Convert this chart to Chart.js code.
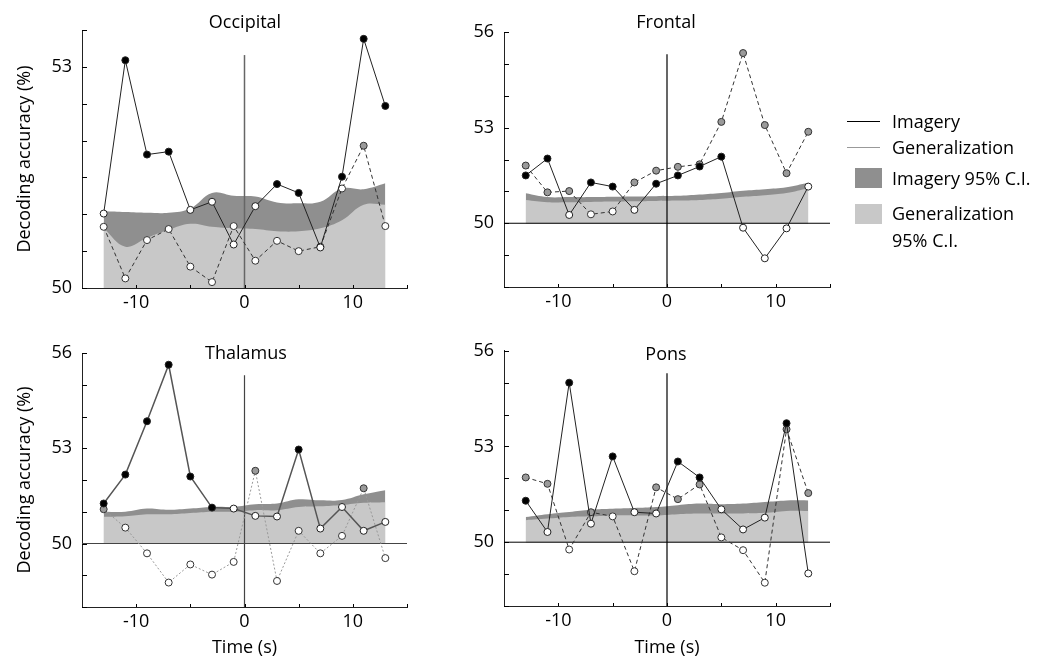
<!DOCTYPE html>
<html>
<head>
<meta charset="utf-8">
<script src="https://cdn.jsdelivr.net/npm/chart.js@4.4.1/dist/chart.umd.min.js"></script>
<style>
  body { margin: 0; background: #fff; font-family: "Open Sans", sans-serif; }
  #wrap { position: relative; width: 1043px; height: 659px; overflow: hidden; }
  canvas { position: absolute; }
  .title { position: absolute; font-size: 18px; line-height: 20px; color: #000; transform: translateX(-50%); white-space: nowrap; }
  .lg { position: absolute; font-size: 18px; line-height: 20px; color: #000; white-space: nowrap; }
  .ln { position: absolute; width: 33px; height: 0; }
  .sw { position: absolute; width: 27px; height: 20px; }
</style>
</head>
<body>
<div id="wrap">
  <canvas id="occ" width="440" height="330" style="left:0;top:0"></canvas>
  <canvas id="fro" width="410" height="330" style="left:440px;top:0"></canvas>
  <canvas id="tha" width="440" height="329" style="left:0;top:330px"></canvas>
  <canvas id="pon" width="410" height="329" style="left:440px;top:330px"></canvas>

  <div class="title" style="left:245px;top:11px">Occipital</div>
  <div class="title" style="left:666px;top:11px">Frontal</div>
  <div class="title" style="left:246px;top:342px">Thalamus</div>
  <div class="title" style="left:666px;top:343px">Pons</div>

  <div class="ln" style="left:847px;top:121px;border-top:1px solid #000"></div>
  <div class="lg" style="left:892px;top:111px">Imagery</div>
  <div class="ln" style="left:847px;top:147px;border-top:1px solid #999"></div>
  <div class="lg" style="left:892px;top:137px">Generalization</div>
  <div class="sw" style="left:855px;top:168px;background:#8f8f8f"></div>
  <div class="lg" style="left:892px;top:168px">Imagery 95% C.I.</div>
  <div class="sw" style="left:855px;top:204px;background:#c8c8c8"></div>
  <div class="lg" style="left:892px;top:203px">Generalization</div>
  <div class="lg" style="left:892px;top:230px">95% C.I.</div>
</div>
<script>
// time points (s)
const times = [-13, -11, -9, -7, -5, -3, -1, 1, 3, 5, 7, 9, 11, 13];
const xLabels = [-10, 0, 10];

// Occipital
const occImagery    = [51.01, 53.09, 51.81, 51.85, 51.06, 51.17, 50.59, 51.11, 51.41, 51.29, 50.55, 51.51, 53.38, 52.47];
const occImagerySig = [0, 1, 1, 1, 0, 0, 0, 0, 1, 1, 0, 1, 1, 1];
const occGen        = [50.83, 50.13, 50.65, 50.80, 50.29, 50.08, 50.84, 50.37, 50.64, 50.50, 50.56, 51.35, 51.93, 50.84];
const occGenSig     = [0, 0, 0, 0, 0, 0, 0, 0, 0, 0, 0, 0, 1, 0];
const occImageryCI  = [51.04, 51.03, 51.02, 51.02, 51.08, 51.29, 51.25, 51.24, 51.16, 51.15, 51.17, 51.35, 51.34, 51.42];
const occGenCI      = [50.81, 50.56, 50.68, 50.79, 50.87, 50.83, 50.81, 50.80, 50.77, 50.77, 50.81, 50.92, 51.13, 51.13];

// Frontal
const froImagery    = [51.50, 52.03, 50.26, 51.28, 51.15, 50.42, 51.24, 51.50, 51.78, 52.09, 49.86, 48.90, 49.84, 51.15];
const froImagerySig = [1, 1, 0, 1, 1, 0, 1, 1, 1, 1, 0, 0, 0, 0];
const froGen        = [51.81, 50.97, 51.01, 50.28, 50.37, 51.28, 51.65, 51.77, 51.85, 53.18, 55.34, 53.08, 51.57, 52.87];
const froGenSig     = [1, 1, 1, 0, 0, 1, 1, 1, 1, 1, 1, 1, 1, 1];
const froImageryCI  = [50.94, 50.82, 50.82, 50.82, 50.83, 50.84, 50.85, 50.86, 50.90, 50.95, 51.02, 51.07, 51.13, 51.27];
const froGenCI      = [50.73, 50.66, 50.66, 50.67, 50.68, 50.69, 50.70, 50.71, 50.73, 50.77, 50.83, 50.88, 50.95, 51.10];

// Thalamus
const thaImagery    = [51.26, 52.17, 53.85, 55.63, 52.11, 51.13, 51.10, 50.87, 50.85, 52.96, 50.47, 51.15, 50.40, 50.68];
const thaImagerySig = [1, 1, 1, 1, 1, 1, 0, 0, 0, 1, 0, 0, 0, 0];
const thaGen        = [51.08, 50.50, 49.69, 48.77, 49.34, 49.02, 49.42, 52.29, 48.82, 50.40, 49.69, 50.24, 51.74, 49.54];
const thaGenSig     = [1, 0, 0, 0, 0, 0, 0, 1, 0, 0, 0, 0, 1, 0];
const thaImageryCI  = [51.00, 51.00, 51.10, 51.06, 51.10, 51.15, 51.16, 51.24, 51.26, 51.39, 51.36, 51.37, 51.55, 51.68];
const thaGenCI      = [50.84, 50.86, 50.92, 50.92, 50.96, 51.00, 51.00, 51.05, 51.05, 51.15, 51.17, 51.21, 51.28, 51.30];

// Pons
const ponImagery    = [51.30, 50.32, 55.00, 50.58, 52.69, 50.94, 50.90, 52.53, 52.03, 51.03, 50.40, 50.77, 53.73, 49.02];
const ponImagerySig = [1, 0, 1, 0, 1, 0, 0, 1, 1, 0, 0, 0, 1, 0];
const ponGen        = [52.03, 51.83, 49.77, 50.94, 50.81, 49.09, 51.72, 51.35, 51.81, 50.15, 49.75, 48.73, 53.54, 51.54];
const ponGenSig     = [1, 1, 0, 1, 0, 0, 1, 1, 1, 0, 0, 0, 1, 1];
const ponImageryCI  = [50.79, 50.88, 50.95, 51.02, 51.05, 51.07, 51.10, 51.16, 51.21, 51.19, 51.21, 51.26, 51.31, 51.31];
const ponGenCI      = [50.69, 50.74, 50.79, 50.81, 50.84, 50.84, 50.84, 50.88, 50.90, 50.90, 50.90, 50.92, 50.98, 50.98];

const font = { family: '"Open Sans", sans-serif', size: 18 };
const darkBand = '#8f8f8f';
const lightBand = '#c8c8c8';

function xy(vals) {
    return vals.map((v, i) => ({ x: times[i], y: v }));
}

// small inward tick marks on both axes
const innerTicks = {
    id: 'innerTicks',
    afterDraw(chart, args, opts) {
        const { ctx, chartArea, scales: { x, y } } = chart;
        ctx.save();
        ctx.strokeStyle = '#000';
        ctx.lineWidth = 1;
        ctx.beginPath();
        for (let v = y.min; v <= y.max + 1e-9; v += opts.yStep) {
            const py = Math.round(y.getPixelForValue(v)) + 0.5;
            ctx.moveTo(chartArea.left, py);
            ctx.lineTo(chartArea.left + 5, py);
        }
        for (let v = -10; v <= 15; v += 5) {
            const px = Math.round(x.getPixelForValue(v)) + 0.5;
            ctx.moveTo(px, chartArea.bottom);
            ctx.lineTo(px, chartArea.bottom - 3);
        }
        ctx.stroke();
        ctx.restore();
    }
};

function panel(id, p) {
    const datasets = [
        {
            data: xy(p.imagery),
            borderColor: p.imgColor,
            borderWidth: p.imgWidth,
            pointRadius: 3.5,
            pointBorderWidth: 1,
            pointBorderColor: '#222',
            pointBackgroundColor: p.imagerySig.map(s => s ? '#000' : '#fff'),
            fill: false,
            order: 0
        },
        {
            data: xy(p.gen),
            borderColor: p.genColor,
            borderWidth: 1,
            borderDash: p.genDash,
            pointRadius: 3.5,
            pointBorderWidth: 1,
            pointBorderColor: '#333',
            pointBackgroundColor: p.genSig.map(s => s ? '#9a9a9a' : '#fff'),
            fill: false,
            order: 1
        },
        {
            data: [{ x: 0, y: p.yMin }, { x: 0, y: p.vTop }],
            borderColor: p.vColor,
            borderWidth: p.vWidth,
            pointRadius: 0,
            fill: false,
            order: 2
        },
        {
            data: xy(p.genCI),
            backgroundColor: lightBand,
            borderWidth: 0,
            pointRadius: 0,
            tension: 0.4,
            fill: { value: 50 },
            order: 4
        },
        {
            data: xy(p.imageryCI),
            backgroundColor: darkBand,
            borderWidth: 0,
            pointRadius: 0,
            tension: 0.4,
            fill: { value: 50 },
            order: 5
        }
    ];
    if (p.hline) {
        datasets.push({
            data: [{ x: -15, y: 50 }, { x: 15, y: 50 }],
            borderColor: p.vColor,
            borderWidth: 1,
            pointRadius: 0,
            fill: false,
            order: 3
        });
    }

    return new Chart(document.getElementById(id), {
        type: 'line',
        data: { datasets: datasets },
        plugins: [innerTicks],
        options: {
            responsive: false,
            animation: false,
            events: [],
            layout: { padding: { top: p.padTop, right: p.padRight, left: 0, bottom: 0 } },
            plugins: {
                legend: { display: false },
                tooltip: { enabled: false },
                innerTicks: { yStep: p.yStep }
            },
            scales: {
                x: {
                    type: 'linear',
                    min: -15,
                    max: 15,
                    grid: { display: false, drawTicks: false },
                    border: { color: '#222', width: 1 },
                    afterBuildTicks: s => { s.ticks = xLabels.map(v => ({ value: v })); },
                    ticks: { font: font, color: '#000', padding: 4, maxRotation: 0, autoSkip: false },
                    title: { display: p.xTitle, text: 'Time (s)', font: font, color: '#000', padding: 0 },
                    afterFit: s => { s.height = p.xHeight; }
                },
                y: {
                    type: 'linear',
                    min: p.yMin,
                    max: p.yMax,
                    grid: { display: false, drawTicks: false },
                    border: { color: '#222', width: 1 },
                    afterBuildTicks: s => { s.ticks = p.yLabels.map(v => ({ value: v })); },
                    ticks: { font: font, color: '#000', padding: 10 },
                    title: { display: p.yTitle, text: 'Decoding accuracy (%)', font: font, color: '#000', padding: { top: 14, bottom: 0 } },
                    afterFit: s => { s.width = p.yWidth; }
                }
            }
        }
    });
}

panel('occ', {
    imagery: occImagery, imagerySig: occImagerySig, gen: occGen, genSig: occGenSig,
    imageryCI: occImageryCI, genCI: occGenCI,
    imgColor: '#222', imgWidth: 1, genColor: '#333', genDash: [4, 3],
    vColor: '#666', vWidth: 1.5, vTop: 53.16, hline: false,
    yMin: 50, yMax: 53.5, yStep: 0.5, yLabels: [50, 53],
    yWidth: 82, padRight: 33, padTop: 30, xHeight: 42, xTitle: false, yTitle: true
});

panel('fro', {
    imagery: froImagery, imagerySig: froImagerySig, gen: froGen, genSig: froGenSig,
    imageryCI: froImageryCI, genCI: froGenCI,
    imgColor: '#222', imgWidth: 1, genColor: '#333', genDash: [4, 3],
    vColor: '#000', vWidth: 1.2, vTop: 55.3, hline: true,
    yMin: 48, yMax: 56, yStep: 1, yLabels: [50, 53, 56],
    yWidth: 64, padRight: 20, padTop: 32, xHeight: 43, xTitle: false, yTitle: false
});

panel('tha', {
    imagery: thaImagery, imagerySig: thaImagerySig, gen: thaGen, genSig: thaGenSig,
    imageryCI: thaImageryCI, genCI: thaGenCI,
    imgColor: '#555', imgWidth: 1.5, genColor: '#999', genDash: [2, 2],
    vColor: '#444', vWidth: 1.2, vTop: 55.3, hline: true,
    yMin: 48, yMax: 56, yStep: 1, yLabels: [50, 53, 56],
    yWidth: 82, padRight: 33, padTop: 23, xHeight: 52, xTitle: true, yTitle: true
});

panel('pon', {
    imagery: ponImagery, imagerySig: ponImagerySig, gen: ponGen, genSig: ponGenSig,
    imageryCI: ponImageryCI, genCI: ponGenCI,
    imgColor: '#222', imgWidth: 1, genColor: '#333', genDash: [4, 3],
    vColor: '#000', vWidth: 1.2, vTop: 55.3, hline: true,
    yMin: 48, yMax: 56, yStep: 1, yLabels: [50, 53, 56],
    yWidth: 64, padRight: 20, padTop: 20, xHeight: 53, xTitle: true, yTitle: false
});
</script>
</body>
</html>
